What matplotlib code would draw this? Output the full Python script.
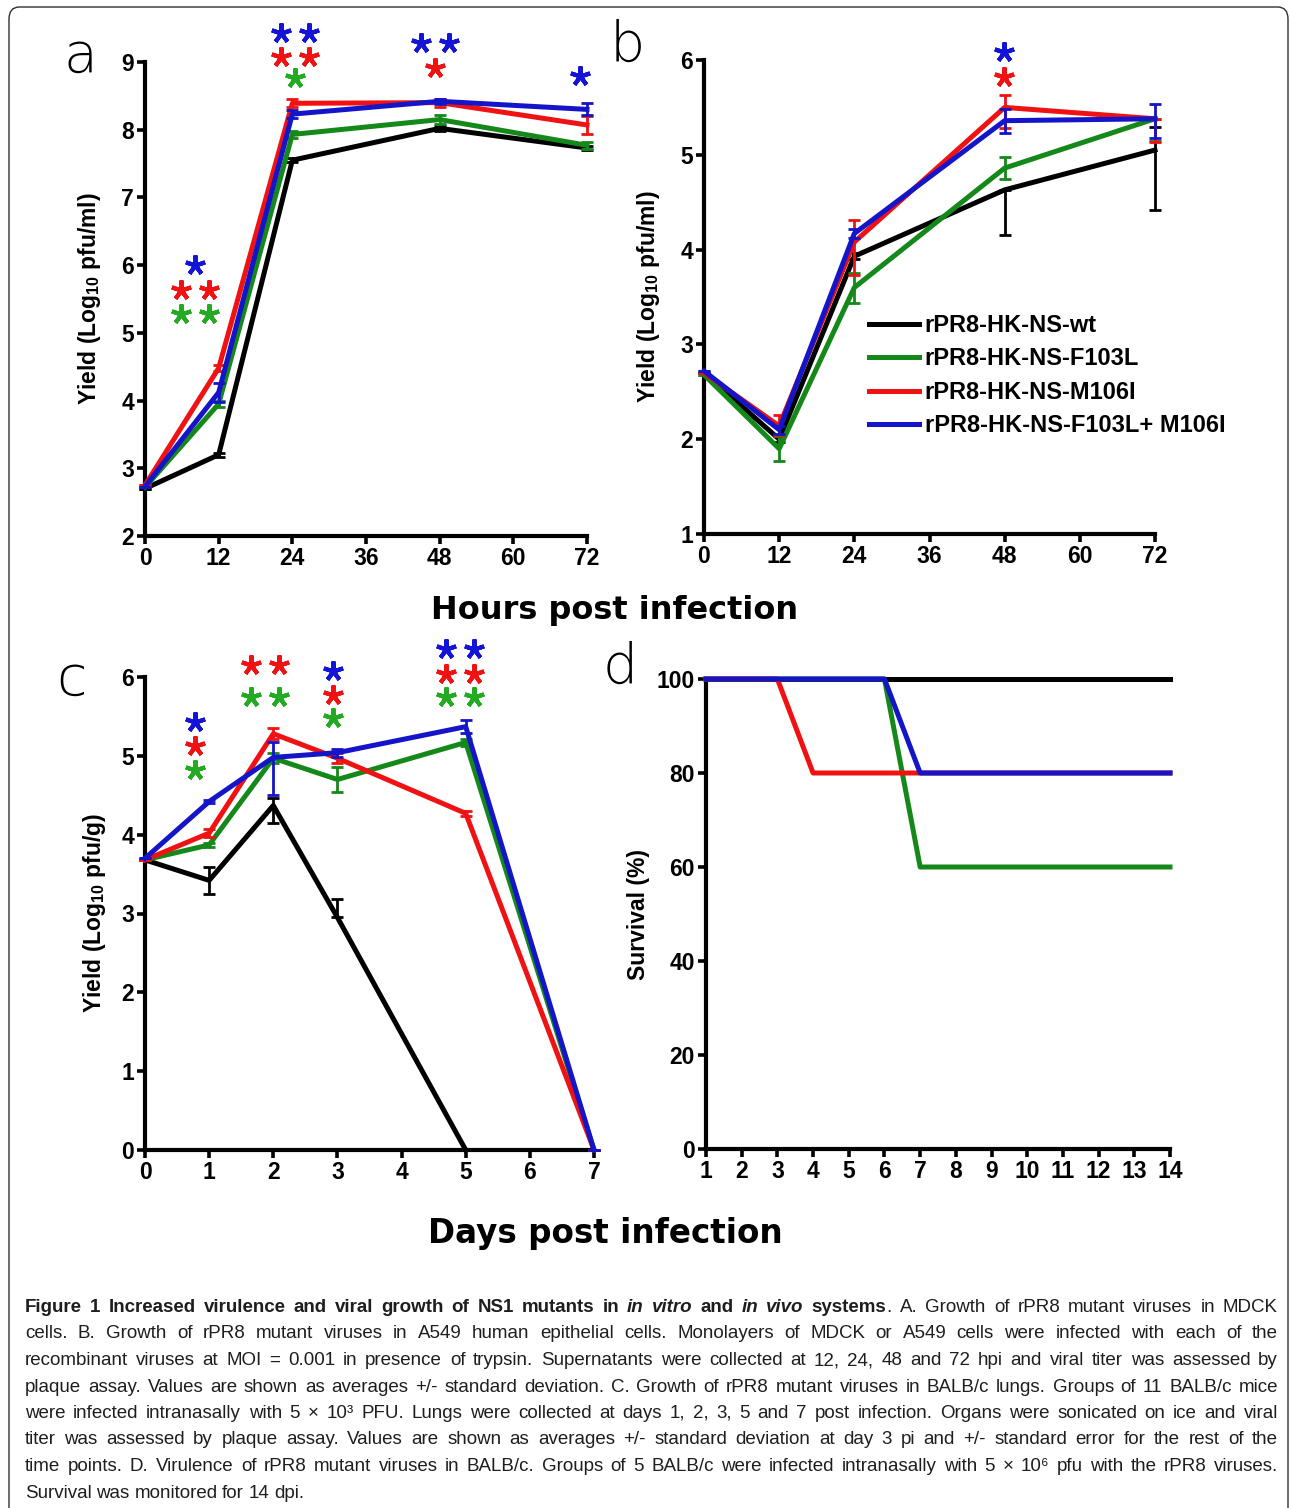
import matplotlib
matplotlib.use("Agg")
import matplotlib.pyplot as plt
import numpy as np
from matplotlib import font_manager
from matplotlib.transforms import offset_copy
from matplotlib.patches import FancyBboxPatch

# ---------------- data ----------------
strains = ["rPR8-HK-NS-wt", "rPR8-HK-NS-F103L", "rPR8-HK-NS-M106I", "rPR8-HK-NS-F103L+ M106I"]
colors = ["#000000", "#15881a", "#f01212", "#1414c8"]
star_colors = ["#000000", "#22aa22", "#f01212", "#1414d8"]

# panel a: MDCK cells, hours post infection
a_hours = [0, 12, 24, 48, 72]
a_mean = [[2.70, 3.20, 7.55, 8.02, 7.73],
          [2.72, 3.95, 7.93, 8.15, 7.77],
          [2.75, 4.48, 8.39, 8.40, 8.07],
          [2.73, 4.12, 8.23, 8.42, 8.30]]
a_err = [[0.0, 0.03, 0.03, 0.04, 0.03],
         [0.0, 0.04, 0.05, 0.07, 0.05],
         [0.0, 0.04, 0.06, 0.06, 0.13],
         [0.0, 0.14, 0.06, 0.04, 0.09]]

# panel b: A549 cells
b_hours = [0, 12, 24, 48, 72]
b_mean = [[2.70, 2.00, 3.93, 4.63, 5.05],
          [2.68, 1.90, 3.60, 4.86, 5.38],
          [2.70, 2.14, 4.08, 5.50, 5.38],
          [2.72, 2.10, 4.17, 5.36, 5.38]]
b_lo = [[0.0, 0.03, 0.03, 0.48, 0.63],
        [0.0, 0.13, 0.16, 0.12, 0.23],
        [0.0, 0.10, 0.35, 0.22, 0.25],
        [0.0, 0.04, 0.05, 0.13, 0.20]]
b_hi = [[0.0, 0.03, 0.03, 0.0, 0.24],
        [0.0, 0.13, 0.15, 0.12, 0.0],
        [0.0, 0.12, 0.23, 0.13, 0.0],
        [0.0, 0.04, 0.05, 0.12, 0.16]]

# panel c: BALB/c lungs, days post infection
c_days = [[0, 1, 2, 3, 5],
          [0, 1, 2, 3, 5, 7],
          [0, 1, 2, 3, 5, 7],
          [0, 1, 2, 3, 5, 7]]
c_mean = [[3.68, 3.42, 4.37, 2.95, 0.0],
          [3.68, 3.87, 4.97, 4.70, 5.17, 0.0],
          [3.68, 4.02, 5.28, 4.97, 4.27, 0.0],
          [3.70, 4.42, 4.98, 5.04, 5.37, 0.0]]
c_lo = [[0.0, 0.17, 0.22, 0.0, 0.0],
        [0.0, 0.03, 0.06, 0.16, 0.04, 0.0],
        [0.0, 0.05, 0.07, 0.06, 0.03, 0.0],
        [0.0, 0.02, 0.48, 0.05, 0.08, 0.0]]
c_hi = [[0.0, 0.17, 0.10, 0.23, 0.0],
        [0.0, 0.03, 0.06, 0.16, 0.04, 0.0],
        [0.0, 0.05, 0.07, 0.06, 0.03, 0.0],
        [0.0, 0.02, 0.20, 0.05, 0.08, 0.0]]

# panel d: survival (%)
d_days = [1, 3, 4, 6, 7, 14]
d_surv = [[100, 100, 100, 100, 100, 100],
          [100, 100, 100, 100, 60, 60],
          [100, 100, 80, 80, 80, 80],
          [100, 100, 100, 100, 80, 80]]

# significance stars: (x, y, count, strain index)
a_stars = [(8.1, 6.00, 1, 3), (8.1, 5.63, 2, 2), (8.1, 5.28, 2, 1),
           (24.4, 9.43, 2, 3), (24.4, 9.07, 2, 2), (24.4, 8.76, 1, 1),
           (47.2, 9.28, 2, 3), (47.2, 8.91, 1, 2),
           (70.9, 8.79, 1, 3)]
b_stars = [(47.9, 6.08, 1, 3), (47.9, 5.82, 1, 2)]
c_stars = [(0.78, 5.43, 1, 3), (0.78, 5.13, 1, 2), (0.78, 4.82, 1, 1),
           (1.87, 6.15, 2, 2), (1.87, 5.75, 2, 1),
           (2.93, 6.08, 1, 3), (2.93, 5.77, 1, 2), (2.93, 5.48, 1, 1),
           (4.91, 6.35, 2, 3), (4.91, 6.04, 2, 2), (4.91, 5.75, 2, 1)]

# ---------------- style ----------------
plt.rcParams['font.family'] = ['Liberation Sans', 'DejaVu Sans']
plt.rcParams['mathtext.fontset'] = 'custom'
plt.rcParams['mathtext.rm'] = 'Liberation Sans:bold'
plt.rcParams['mathtext.bf'] = 'Liberation Sans:bold'
plt.rcParams['mathtext.default'] = 'bf'

W, H = 1290, 1508
fig = plt.figure(figsize=(W / 100, H / 100), dpi=100)

def px_axes(left, right, top, bottom):
    return fig.add_axes([left / W, 1 - bottom / H, (right - left) / W, (bottom - top) / H])

ax_a = px_axes(145, 587, 62, 536)
ax_b = px_axes(704, 1155, 60, 534)
ax_c = px_axes(145, 594, 677, 1150)
ax_d = px_axes(706, 1170, 679, 1149)

LW = 3.6
TICKFS = 16.5

def style_axes(ax):
    for s in ['top', 'right']:
        ax.spines[s].set_visible(False)
    for s in ['left', 'bottom']:
        ax.spines[s].set_linewidth(3.0)
    ax.tick_params(direction='out', length=6, width=2.6, labelsize=TICKFS, pad=2)
    for lab in ax.get_xticklabels() + ax.get_yticklabels():
        lab.set_fontweight('bold')

def draw_series(ax, x, y, lo, hi, color, z):
    ax.errorbar(x, y, yerr=[lo, hi], color=color, lw=LW, elinewidth=2.0,
                capsize=4, capthick=2.0, clip_on=False, zorder=z)

def draw_stars(ax, stars):
    for x, y, n, k in stars:
        for i in range(n):
            off = (i - (n - 1) / 2) * 20
            tr = offset_copy(ax.transData, fig=fig, x=off, y=0, units='points')
            ax.plot([x], [y], ls='none', marker=(5, 2, 0), ms=14.5, mew=3.0,
                    color=star_colors[k], transform=tr, clip_on=False)

# panel a
for k in range(4):
    draw_series(ax_a, a_hours, a_mean[k], a_err[k], a_err[k], colors[k], 3 + k)
ax_a.set_xlim(0, 72)
ax_a.set_ylim(2, 9)
ax_a.set_xticks([0, 12, 24, 36, 48, 60, 72])
ax_a.set_yticks(range(2, 10))
draw_stars(ax_a, a_stars)

# panel b
for k in range(4):
    draw_series(ax_b, b_hours, b_mean[k], b_lo[k], b_hi[k], colors[k], 3 + k)
ax_b.set_xlim(0, 72)
ax_b.set_ylim(1, 6)
ax_b.set_xticks([0, 12, 24, 36, 48, 60, 72])
ax_b.set_yticks(range(1, 7))
draw_stars(ax_b, b_stars)
handles = [plt.Line2D([], [], color=colors[k], lw=LW) for k in range(4)]
ax_b.legend(handles, strains, loc='upper left', bbox_to_anchor=(0.345, 0.484),
            frameon=False, handlelength=2.1, handletextpad=0.25, labelspacing=0.44,
            prop={'weight': 'bold', 'size': 17}, borderaxespad=0)

# panel c
for k in range(4):
    draw_series(ax_c, c_days[k], c_mean[k], c_lo[k], c_hi[k], colors[k], 3 + k)
ax_c.set_xlim(0, 7)
ax_c.set_ylim(0, 6)
ax_c.set_xticks(range(0, 8))
ax_c.set_yticks(range(0, 7))
draw_stars(ax_c, c_stars)

# panel d
for k in [0, 2, 1, 3]:
    ax_d.plot(d_days, d_surv[k], color=colors[k], lw=LW, clip_on=False, zorder=3 + k)
ax_d.set_xlim(1, 14)
ax_d.set_ylim(0, 100)
ax_d.set_xticks(range(1, 15))
ax_d.set_yticks(range(0, 101, 20))

for ax in [ax_a, ax_b, ax_c, ax_d]:
    style_axes(ax)

ylab = r"Yield (Log$_{10}$ pfu/ml)"
ax_a.set_ylabel(ylab, fontsize=16.5, fontweight='bold')
ax_a.yaxis.set_label_coords(-0.095, 0.5)
ax_b.set_ylabel(ylab, fontsize=16.5, fontweight='bold')
ax_b.yaxis.set_label_coords(-0.093, 0.5)
ax_c.set_ylabel(r"Yield (Log$_{10}$ pfu/g)", fontsize=16.5, fontweight='bold')
ax_c.yaxis.set_label_coords(-0.082, 0.5)
ax_d.set_ylabel("Survival (%)", fontsize=16.5, fontweight='bold')
ax_d.yaxis.set_label_coords(-0.12, 0.5)

# panel letters and shared x titles
for letter, x, y in [('a', 80, 57), ('b', 627, 46), ('c', 72, 680), ('d', 620, 668)]:
    fig.text(x / W, 1 - y / H, letter, fontsize=40, fontfamily='DejaVu Sans',
             fontweight='light', ha='center', va='center')
fig.text(615 / W, 1 - 610 / H, "Hours post infection", fontsize=23, fontweight='bold',
         fontfamily='DejaVu Sans', ha='center', va='center')
fig.text(605 / W, 1 - 1233 / H, "Days post infection", fontsize=23.5, fontweight='bold',
         fontfamily='DejaVu Sans', ha='center', va='center')

# frame around the figure
fig.patches.append(FancyBboxPatch((9 / W, -0.02), (1288 - 9) / W, 1 - 7 / H + 0.02,
                                  boxstyle="round,pad=0,rounding_size=0.008",
                                  transform=fig.transFigure, fill=False,
                                  edgecolor='#303030', lw=1.0))

# ---------------- caption ----------------
names = {f.name for f in font_manager.fontManager.ttflist}
cap_font = 'Liberation Sans Narrow' if 'Liberation Sans Narrow' in names else 'Liberation Sans'

cap_lines = [
    [("Figure 1 Increased virulence and viral growth of NS1 mutants in ", 'bold', 'normal'),
     ("in vitro", 'bold', 'italic'), (" and ", 'bold', 'normal'),
     ("in vivo", 'bold', 'italic'), (" systems", 'bold', 'normal'),
     (". A. Growth of rPR8 mutant viruses in MDCK", 'normal', 'normal')],
    [("cells. B. Growth of rPR8 mutant viruses in A549 human epithelial cells. Monolayers of MDCK or A549 cells were infected with each of the", 'normal', 'normal')],
    [("recombinant viruses at MOI = 0.001 in presence of trypsin. Supernatants were collected at 12, 24, 48 and 72 hpi and viral titer was assessed by", 'normal', 'normal')],
    [("plaque assay. Values are shown as averages +/- standard deviation. C. Growth of rPR8 mutant viruses in BALB/c lungs. Groups of 11 BALB/c mice", 'normal', 'normal')],
    [("were infected intranasally with 5 \u00d7 10\u00b3 PFU. Lungs were collected at days 1, 2, 3, 5 and 7 post infection. Organs were sonicated on ice and viral", 'normal', 'normal')],
    [("titer was assessed by plaque assay. Values are shown as averages +/- standard deviation at day 3 pi and +/- standard error for the rest of the", 'normal', 'normal')],
    [("time points. D. Virulence of rPR8 mutant viruses in BALB/c. Groups of 5 BALB/c were infected intranasally with 5 \u00d7 10\u2076 pfu with the rPR8 viruses.", 'normal', 'normal')],
    [("Survival was monitored for 14 dpi.", 'normal', 'normal')],
]

def split_words(segs):
    words = []
    glue = False
    for text, w, s in segs:
        parts = text.split(' ')
        for i, p in enumerate(parts):
            if i > 0:
                glue = False
            if p:
                if glue and words:
                    words[-1].append((p, w, s))
                else:
                    words.append([(p, w, s)])
                glue = True
        glue = not text.endswith(' ')
    return words

x0, x1 = 25, 1278
cap_fs = 13.5
renderer = fig.canvas.get_renderer()
all_lines = []
for li, segs in enumerate(cap_lines):
    words = []
    for word in split_words(segs):
        pieces = []
        for p, w, s in word:
            t = fig.text(0, 0, p, fontsize=cap_fs, fontweight=w, fontstyle=s,
                         family=[cap_font, 'DejaVu Sans'], color='#1e1e1e',
                         ha='left', va='baseline')
            pieces.append(t)
        words.append(pieces)
    all_lines.append(words)

def width(t):
    return t.get_window_extent(renderer).width

# shrink font if the longest line does not fit
space = cap_fs * 0.25
nat = max(sum(width(t) for w in ws for t in w) + space * (len(ws) - 1) for ws in all_lines)
if nat > (x1 - x0):
    cap_fs = cap_fs * (x1 - x0) / nat * 0.995
    for ws in all_lines:
        for w in ws:
            for t in w:
                t.set_fontsize(cap_fs)
    space = cap_fs * 0.25

for li, ws in enumerate(all_lines):
    base = 1312 + li * 26.5
    wsum = [sum(width(t) for t in w) for w in ws]
    if li < len(all_lines) - 1:
        gap = (x1 - x0 - sum(wsum)) / (len(ws) - 1)
    else:
        gap = space * 100 / 72
    x = x0
    for w, ww in zip(ws, wsum):
        xx = x
        for t in w:
            t.set_position((xx / W, 1 - base / H))
            xx += width(t)
        x += ww + gap

fig.savefig("out.png", dpi=100)
